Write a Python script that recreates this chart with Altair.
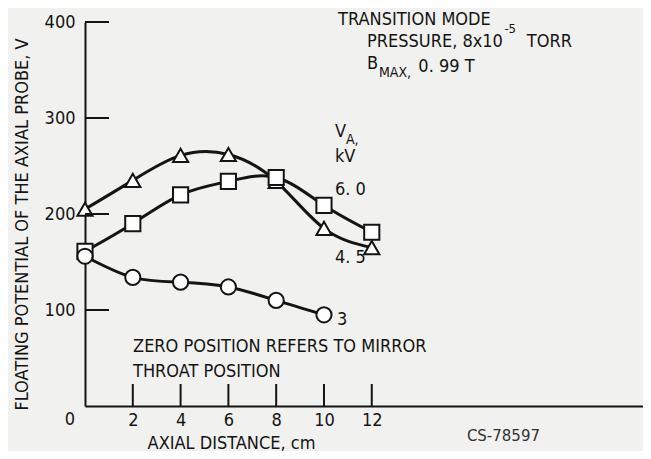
import altair as alt
import pandas as pd

# ---- data ----
x_tri = [0, 2, 4, 6, 8, 10, 12]
y_tri = [205, 235, 261, 262, 234, 185, 165]      # 4.5 kV (triangles)
x_sq = [0, 2, 4, 6, 8, 10, 12]
y_sq = [161, 190, 220, 234, 238, 209, 181]       # 6.0 kV (squares)
x_circ = [0, 2, 4, 6, 8, 10]
y_circ = [156, 134, 129, 124, 110, 95]           # 3 kV (circles)

x_ticks = [2, 4, 6, 8, 10, 12]
y_ticks = [100, 200, 300, 400]

ann_text = ["TRANSITION MODE", "PRESSURE, 8x10", "-5", "TORR", "B", "MAX,", "0. 99 T",
            "V", "A,", "kV", "6. 0", "4. 5", "3",
            "ZERO POSITION REFERS TO MIRROR", "THROAT POSITION"]
ann_x = [10.59, 11.80, 17.55, 18.49, 11.80, 12.30, 13.95,
         10.46, 10.92, 10.46, 10.46, 10.46, 10.54,
         2.01, 2.01]
ann_y = [402, 379, 393, 379, 356, 347, 353,
         285, 277, 259, 225, 154, 90,
         61, 35]
ann_size = [18, 18, 13, 18, 18, 14, 18,
            18, 14, 18, 18, 18, 18,
            18, 18]

origin_text = ["0"]
origin_x = [-0.63]
origin_y = [-14.6]

code_text = ["CS-78597"]
code_x = [15.98]
code_y = [-31]

FONT = "DejaVu Sans Condensed, Liberation Sans Narrow, DejaVu Sans, sans-serif"
INK = "#141414"

rows = []
for s, xs, ys in [("4.5", x_tri, y_tri), ("6.0", x_sq, y_sq), ("3", x_circ, y_circ)]:
    for a, b in zip(xs, ys):
        rows.append({"series": s, "x": a, "y": b})
df = pd.DataFrame(rows)

xdom = [0, 23.35]
ydom = [0, 400]
xs = alt.Scale(domain=xdom, nice=False, zero=False)
ys = alt.Scale(domain=ydom, nice=False)

base = alt.Chart(df)

lines = base.mark_line(interpolate="natural", strokeWidth=3, color=INK).encode(
    x=alt.X("x:Q", scale=xs,
            axis=alt.Axis(values=x_ticks, ticks=False, grid=False, domainColor=INK, domainWidth=2,
                          labelFont=FONT, labelFontSize=18, labelColor=INK, labelPadding=5,
                          title="AXIAL DISTANCE, cm", titleFont=FONT, titleFontSize=18,
                          titleFontWeight="normal", titleColor=INK, titleX=146, titleY=37,
                          titleAlign="center", titleBaseline="middle")),
    y=alt.Y("y:Q", scale=ys,
            axis=alt.Axis(values=y_ticks, ticks=False, grid=False, domainColor=INK, domainWidth=2,
                          labelFont=FONT, labelFontSize=18, labelColor=INK, labelPadding=10,
                          title="FLOATING POTENTIAL OF THE AXIAL PROBE, V", titleFont=FONT,
                          titleFontSize=18, titleFontWeight="normal", titleColor=INK,
                          titleAngle=270, titleX=-63, titleY=202, titleAlign="center",
                          titleBaseline="middle")),
    detail="series:N",
)

points = base.mark_point(filled=True, fill="white", stroke=INK, strokeWidth=2, size=230, opacity=1).encode(
    x=alt.X("x:Q", scale=xs),
    y=alt.Y("y:Q", scale=ys),
    shape=alt.Shape("series:N", scale=alt.Scale(domain=["3", "6.0", "4.5"],
                                                range=["circle", "square", "triangle-up"]),
                    legend=None),
)

xt = alt.Chart(pd.DataFrame({"t": x_ticks})).mark_rule(color=INK, strokeWidth=2).encode(
    x=alt.X("t:Q", scale=xs), y=alt.value(384), y2=alt.value(362))
yt = alt.Chart(pd.DataFrame({"t": y_ticks})).mark_rule(color=INK, strokeWidth=2).encode(
    y=alt.Y("t:Q", scale=ys), x=alt.value(0), x2=alt.value(24))

ann_df = pd.DataFrame({"text": ann_text, "x": ann_x, "y": ann_y, "size": ann_size})
ann = alt.Chart(ann_df).mark_text(font=FONT, align="left", baseline="middle", color=INK).encode(
    x=alt.X("x:Q", scale=xs), y=alt.Y("y:Q", scale=ys), text="text:N",
    size=alt.Size("size:Q", scale=None, legend=None))

origin = alt.Chart(pd.DataFrame({"text": origin_text, "x": origin_x, "y": origin_y})).mark_text(
    font=FONT, fontSize=18, align="center", baseline="middle", color=INK).encode(
    x=alt.X("x:Q", scale=xs), y=alt.Y("y:Q", scale=ys), text="text:N")

code = alt.Chart(pd.DataFrame({"text": code_text, "x": code_x, "y": code_y})).mark_text(
    font="DejaVu Sans, sans-serif", fontSize=15, align="left", baseline="middle",
    color="#333333").encode(
    x=alt.X("x:Q", scale=xs), y=alt.Y("y:Q", scale=ys), text="text:N")

chart = alt.layer(lines, points, xt, yt, ann, origin, code).properties(
    width=558, height=384,
    autosize=alt.AutoSizeParams(type="none"),
    padding={"left": 77, "top": 14, "right": 0, "bottom": 45},
    background="#f1f1ef",
).configure_view(stroke=None)

chart.save("out.html", embed_options={"renderer": "svg", "actions": False})
